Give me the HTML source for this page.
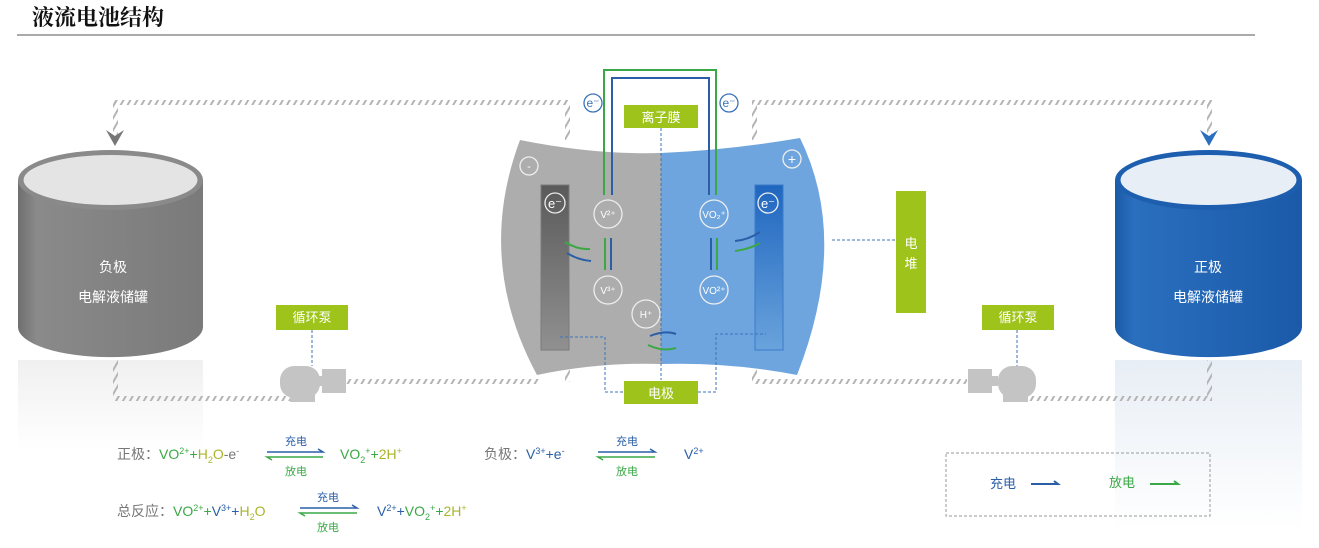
<!DOCTYPE html>
<html><head><meta charset="utf-8"><style>
body{margin:0;background:#fff;width:1319px;height:543px;overflow:hidden;font-family:"Liberation Sans","Noto Sans CJK SC",sans-serif}
</style></head><body>
<svg width="1319" height="543" viewBox="0 0 1319 543" xmlns="http://www.w3.org/2000/svg" font-family="Liberation Sans, Noto Sans CJK SC, sans-serif">
<defs>
<pattern id="hatch" width="6" height="6" patternUnits="userSpaceOnUse" patternTransform="rotate(30)"><rect width="2" height="6" fill="#b4b4b4"/></pattern>
<linearGradient id="gcyl" x1="0" x2="1"><stop offset="0" stop-color="#6f6f6f"/><stop offset="0.1" stop-color="#8a8a8a"/><stop offset="1" stop-color="#7a7a7a"/></linearGradient>
<linearGradient id="bcyl" x1="0" x2="1"><stop offset="0" stop-color="#1a5aa6"/><stop offset="0.1" stop-color="#2a6fbe"/><stop offset="1" stop-color="#1a5aa8"/></linearGradient>
<linearGradient id="ref" x1="0" y1="0" x2="0" y2="1"><stop offset="0" stop-color="#f0f0f0"/><stop offset="1" stop-color="#fff"/></linearGradient>
<linearGradient id="refb" x1="0" y1="0" x2="0" y2="1"><stop offset="0" stop-color="#e8eef5"/><stop offset="1" stop-color="#fff"/></linearGradient>
<linearGradient id="eleL" x1="0" y1="0" x2="0" y2="1"><stop offset="0" stop-color="#5a5a5a"/><stop offset="1" stop-color="#909090"/></linearGradient>
<linearGradient id="eleR" x1="0" y1="0" x2="0" y2="1"><stop offset="0" stop-color="#1f66c0"/><stop offset="1" stop-color="#6aa3dc"/></linearGradient>
</defs>
<text x="32" y="25" font-size="22" font-weight="bold" font-family="Noto Serif CJK SC, serif" fill="#111">液流电池结构</text>
<line x1="17" y1="35" x2="1255" y2="35" stroke="#777" stroke-width="1.2"/>

<rect x="18" y="360" width="185" height="90" fill="url(#ref)"/>
<rect x="1115" y="360" width="187" height="170" fill="url(#refb)"/>

<g fill="url(#hatch)">
<rect x="113" y="100" width="455" height="5"/>
<rect x="113" y="100" width="5" height="38"/>
<rect x="565" y="100" width="5" height="40"/>
<rect x="113" y="360" width="5" height="40"/>
<rect x="113" y="396" width="180" height="5"/>
<rect x="345" y="379" width="195" height="5"/>
<rect x="752" y="100" width="460" height="5"/>
<rect x="1207" y="100" width="5" height="35"/>
<rect x="752" y="100" width="5" height="40"/>
<rect x="752" y="379" width="215" height="5"/>
<rect x="1022" y="396" width="190" height="5"/>
<rect x="1207" y="360" width="5" height="40"/>
<rect x="565" y="370" width="5" height="12"/>
<rect x="752" y="370" width="5" height="12"/>
</g>
<path d="M106 130 L115 146 L124 130 L115 136Z" fill="#777"/>
<path d="M1200 130 L1209 146 L1218 130 L1209 136Z" fill="#2a6fbe"/>

<path d="M18 180 L18 327 A92 30 0 0 0 203 327 L203 180Z" fill="url(#gcyl)"/>
<ellipse cx="110.5" cy="180" rx="92.5" ry="30" fill="#8a8a8a"/>
<ellipse cx="110.5" cy="180" rx="87" ry="25" fill="#e4e4e4"/>
<text x="113" y="272" font-size="14" fill="#fff" text-anchor="middle">负极</text>
<text x="113" y="302" font-size="14" fill="#fff" text-anchor="middle">电解液储罐</text>
<path d="M1115 180 L1115 327 A93 30 0 0 0 1302 327 L1302 180Z" fill="url(#bcyl)"/>
<ellipse cx="1208.5" cy="180" rx="93.5" ry="30" fill="#1d5fae"/>
<ellipse cx="1208.5" cy="180" rx="88" ry="25" fill="#e8eef6"/>
<text x="1208" y="272" font-size="14" fill="#fff" text-anchor="middle">正极</text>
<text x="1208" y="302" font-size="14" fill="#fff" text-anchor="middle">电解液储罐</text>

<g fill="#c4c4c4">
<rect x="280" y="366" width="40" height="32" rx="14"/><rect x="290" y="390" width="25" height="12"/><rect x="322" y="369" width="24" height="24"/><rect x="316" y="376" width="8" height="10"/>
<rect x="998" y="366" width="38" height="32" rx="14"/><rect x="1003" y="390" width="25" height="12"/><rect x="968" y="369" width="24" height="24"/><rect x="990" y="376" width="8" height="10"/>
</g>
<rect x="276" y="305" width="72" height="25" fill="#9ec31a"/><text x="312" y="322" font-size="13" fill="#fff" text-anchor="middle">循环泵</text>
<line x1="312" y1="330" x2="312" y2="366" stroke="#3b73b9" stroke-dasharray="3,2"/>
<rect x="982" y="305" width="72" height="25" fill="#9ec31a"/><text x="1018" y="322" font-size="13" fill="#fff" text-anchor="middle">循环泵</text>
<line x1="1017" y1="330" x2="1017" y2="366" stroke="#3b73b9" stroke-dasharray="3,2"/>

<path d="M520 140 Q595 155 661 153 L661 364 Q600 362 537 375 Q475 260 520 140Z" fill="#adadad"/>
<path d="M661 153 Q730 150 800 138 Q850 240 797 375 Q730 362 661 364Z" fill="#6fa5de"/>
<rect x="541" y="185" width="28" height="165" fill="url(#eleL)" stroke="#7a7a7a"/>
<rect x="755" y="185" width="28" height="165" fill="url(#eleR)" stroke="#3a7bc8"/>
<line x1="661" y1="128" x2="661" y2="380" stroke="#3b73b9" stroke-dasharray="3,2"/>
<g fill="none" stroke="#eee" stroke-width="1.3">
<circle cx="529" cy="166" r="9"/><circle cx="792" cy="159" r="9"/>
<circle cx="555" cy="203" r="10"/><circle cx="768" cy="203" r="10"/>
<circle cx="608" cy="214" r="14"/><circle cx="608" cy="290" r="14"/>
<circle cx="714" cy="214" r="14"/><circle cx="714" cy="290" r="14"/>
<circle cx="646" cy="314" r="14"/>
<circle cx="593" cy="103" r="9" stroke="#3b73b9"/><circle cx="729" cy="103" r="9" stroke="#3b73b9"/>
</g>
<g fill="#fff" font-size="11" text-anchor="middle">
<text x="529" y="170">-</text><text x="792" y="164" font-size="14">+</text>
<text x="555" y="208" font-size="13">e⁻</text><text x="768" y="208" font-size="13">e⁻</text>
<text x="608" y="218" font-size="10">V²⁺</text><text x="608" y="294" font-size="10">V³⁺</text>
<text x="714" y="218" font-size="10">VO₂⁺</text><text x="714" y="294" font-size="10">VO²⁺</text>
<text x="646" y="318" font-size="10">H⁺</text>
</g>
<text x="593" y="107" font-size="12" fill="#3b73b9" text-anchor="middle">e⁻</text>
<text x="729" y="107" font-size="12" fill="#3b73b9" text-anchor="middle">e⁻</text>
<path d="M604 195 L604 70 L716 70 L716 195" fill="none" stroke="#3aa845" stroke-width="2"/>
<path d="M612 195 L612 78 L709 78 L709 195" fill="none" stroke="#2a5fa8" stroke-width="2"/>
<g stroke-width="2" fill="none">
<line x1="605" y1="238" x2="605" y2="270" stroke="#3aa845"/><line x1="611" y1="238" x2="611" y2="270" stroke="#2a5fa8"/>
<line x1="711" y1="238" x2="711" y2="270" stroke="#2a5fa8"/><line x1="717" y1="238" x2="717" y2="270" stroke="#3aa845"/>
<path d="M565 242 Q578 250 590 249" stroke="#3aa845"/><path d="M567 253 Q578 260 591 261" stroke="#2a5fa8"/>
<path d="M760 232 Q748 240 735 241" stroke="#2a5fa8"/><path d="M760 243 Q750 249 735 251" stroke="#3aa845"/>
<path d="M676 334 Q665 330 650 336" stroke="#2a5fa8"/><path d="M648 345 Q663 352 676 348" stroke="#3aa845"/>
</g>
<rect x="624" y="105" width="74" height="23" fill="#9ec31a"/><text x="661" y="122" font-size="13" fill="#fff" text-anchor="middle">离子膜</text>
<rect x="624" y="381" width="74" height="23" fill="#9ec31a"/><text x="661" y="398" font-size="13" fill="#fff" text-anchor="middle">电极</text>
<path d="M560 337 L605 337 L605 392 L624 392 M698 392 L716 392 L716 334 L766 334" fill="none" stroke="#3b73b9" stroke-dasharray="3,2"/>
<rect x="896" y="191" width="30" height="122" fill="#9ec31a"/>
<text x="911" y="248" font-size="13" fill="#fff" text-anchor="middle">电</text><text x="911" y="268" font-size="13" fill="#fff" text-anchor="middle">堆</text>
<line x1="832" y1="240" x2="896" y2="240" stroke="#3b73b9" stroke-dasharray="3,2"/>

<g font-size="14">
<text x="117" y="459" fill="#777">正极：<tspan fill="#3aa845">VO<tspan font-size="9" dy="-5">2+</tspan><tspan dy="5">+</tspan></tspan><tspan fill="#aab52a">H<tspan font-size="9" dy="4">2</tspan><tspan dy="-4">O</tspan></tspan>-e<tspan font-size="9" dy="-5">-</tspan></text>
<text x="340" y="459" fill="#3aa845">VO<tspan font-size="9" dy="4">2</tspan><tspan font-size="9" dy="-9">+</tspan><tspan dy="5">+</tspan><tspan fill="#aab52a">2H<tspan font-size="9" dy="-5">+</tspan></tspan></text>
<text x="484" y="459" fill="#777">负极：<tspan fill="#2a5fa8">V<tspan font-size="9" dy="-5">3+</tspan><tspan dy="5">+e</tspan><tspan font-size="9" dy="-5">-</tspan></tspan></text>
<text x="684" y="459" fill="#2a5fa8">V<tspan font-size="9" dy="-5">2+</tspan></text>
<text x="117" y="516" fill="#777">总反应：<tspan fill="#3aa845">VO<tspan font-size="9" dy="-5">2+</tspan><tspan dy="5">+</tspan></tspan><tspan fill="#2a5fa8">V<tspan font-size="9" dy="-5">3+</tspan><tspan dy="5">+</tspan></tspan><tspan fill="#aab52a">H<tspan font-size="9" dy="4">2</tspan><tspan dy="-4">O</tspan></tspan></text>
<text x="377" y="516" fill="#2a5fa8">V<tspan font-size="9" dy="-5">2+</tspan><tspan dy="5">+</tspan><tspan fill="#3aa845">VO<tspan font-size="9" dy="4">2</tspan><tspan font-size="9" dy="-9">+</tspan><tspan dy="5">+</tspan></tspan><tspan fill="#aab52a">2H<tspan font-size="9" dy="-5">+</tspan></tspan></text>
</g>
<g font-size="11" text-anchor="middle">
<text x="296" y="445" fill="#2a5fa8">充电</text><text x="296" y="475" fill="#3aa845">放电</text>
<text x="627" y="445" fill="#2a5fa8">充电</text><text x="627" y="475" fill="#3aa845">放电</text>
<text x="328" y="501" fill="#2a5fa8">充电</text><text x="328" y="531" fill="#3aa845">放电</text>
</g>
<g stroke-width="1.5" fill="none">
<path d="M267 452 L323 452 L318 449" stroke="#2a5fa8"/><path d="M323 457 L267 457 L272 460" stroke="#3aa845"/>
<path d="M598 452 L655 452 L650 449" stroke="#2a5fa8"/><path d="M655 457 L598 457 L603 460" stroke="#3aa845"/>
<path d="M300 508 L357 508 L352 505" stroke="#2a5fa8"/><path d="M357 513 L300 513 L305 516" stroke="#3aa845"/>
</g>
<rect x="946" y="453" width="264" height="63" fill="none" stroke="#999" stroke-dasharray="3,2"/>
<text x="990" y="488" font-size="13" fill="#2a5fa8">充电</text>
<path d="M1031 484 L1058 484 L1054 481" stroke="#2a5fa8" stroke-width="2" fill="none"/>
<text x="1109" y="487" font-size="13" fill="#3aa845">放电</text>
<path d="M1150 484 L1178 484 L1174 481" stroke="#3aa845" stroke-width="2" fill="none"/>
</svg>
</body></html>
